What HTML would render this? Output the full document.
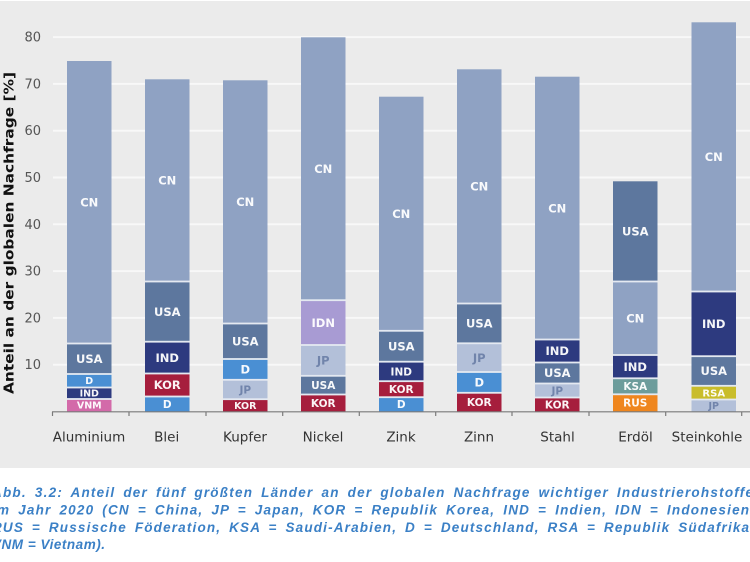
<!DOCTYPE html>
<html>
<head>
<meta charset="utf-8">
<style>
  html, body { margin: 0; padding: 0; background: #ffffff; }
  body { width: 750px; height: 562px; overflow: hidden; }
  svg { display: block; }
</style>
</head>
<body>
<svg width="750" height="562" viewBox="0 0 750 562" xmlns="http://www.w3.org/2000/svg">
  <rect x="0" y="0" width="750" height="562" fill="#ffffff"/>
  <rect x="0" y="1" width="750" height="467" fill="#ebebeb"/>

  <g stroke="#f8f8f8" stroke-width="2">
    <line x1="53" y1="364.7" x2="750" y2="364.7"/>
    <line x1="53" y1="317.9" x2="750" y2="317.9"/>
    <line x1="53" y1="271.1" x2="750" y2="271.1"/>
    <line x1="53" y1="224.3" x2="750" y2="224.3"/>
    <line x1="53" y1="177.5" x2="750" y2="177.5"/>
    <line x1="53" y1="130.7" x2="750" y2="130.7"/>
    <line x1="53" y1="83.9" x2="750" y2="83.9"/>
    <line x1="53" y1="37.1" x2="750" y2="37.1"/>
  </g>

  <g font-family="'DejaVu Sans', 'Liberation Sans', sans-serif" font-size="13" fill="#555" text-anchor="end">
    <text x="41" y="369.2">10</text>
    <text x="41" y="322.4">20</text>
    <text x="41" y="275.6">30</text>
    <text x="41" y="228.8">40</text>
    <text x="41" y="182">50</text>
    <text x="41" y="135.2">60</text>
    <text x="41" y="88.4">70</text>
    <text x="41" y="41.6">80</text>
  </g>

  <text transform="translate(13.5,233) rotate(-90)" text-anchor="middle" font-family="'DejaVu Sans', 'Liberation Sans', sans-serif" font-weight="bold" font-size="13" fill="#111" textLength="322" lengthAdjust="spacingAndGlyphs">Anteil an der globalen Nachfrage [%]</text>

  <g>
    <rect x="67" y="61" width="44.5" height="282.5" fill="#8fa2c3"/>
    <rect x="67" y="343.5" width="44.5" height="30.5" fill="#5d779e"/>
    <rect x="67" y="374" width="44.5" height="13.5" fill="#4a8fd3"/>
    <rect x="67" y="387.5" width="44.5" height="11.5" fill="#2d3a7f"/>
    <rect x="67" y="399" width="44.5" height="12.5" fill="#d36aa9"/>

    <rect x="145" y="79.3" width="44.5" height="202.2" fill="#8fa2c3"/>
    <rect x="145" y="281.5" width="44.5" height="60.2" fill="#5d779e"/>
    <rect x="145" y="341.7" width="44.5" height="31.8" fill="#2d3a7f"/>
    <rect x="145" y="373.5" width="44.5" height="23" fill="#a61e3d"/>
    <rect x="145" y="396.5" width="44.5" height="15" fill="#4a8fd3"/>

    <rect x="223" y="80.3" width="44.5" height="243.2" fill="#8fa2c3"/>
    <rect x="223" y="323.5" width="44.5" height="35.5" fill="#5d779e"/>
    <rect x="223" y="359" width="44.5" height="20.8" fill="#4a8fd3"/>
    <rect x="223" y="379.8" width="44.5" height="19.4" fill="#b3c0d9"/>
    <rect x="223" y="399.2" width="44.5" height="12.3" fill="#a61e3d"/>

    <rect x="301" y="37.3" width="44.5" height="262.9" fill="#8fa2c3"/>
    <rect x="301" y="300.2" width="44.5" height="44.8" fill="#a89bd3"/>
    <rect x="301" y="345" width="44.5" height="30.8" fill="#b3c0d9"/>
    <rect x="301" y="375.8" width="44.5" height="18.7" fill="#5d779e"/>
    <rect x="301" y="394.5" width="44.5" height="17" fill="#a61e3d"/>

    <rect x="379" y="96.7" width="44.5" height="234.1" fill="#8fa2c3"/>
    <rect x="379" y="330.8" width="44.5" height="30.9" fill="#5d779e"/>
    <rect x="379" y="361.7" width="44.5" height="19.5" fill="#2d3a7f"/>
    <rect x="379" y="381.2" width="44.5" height="16" fill="#a61e3d"/>
    <rect x="379" y="397.2" width="44.5" height="14.3" fill="#4a8fd3"/>

    <rect x="457" y="69.3" width="44.5" height="234.2" fill="#8fa2c3"/>
    <rect x="457" y="303.5" width="44.5" height="39.8" fill="#5d779e"/>
    <rect x="457" y="343.3" width="44.5" height="28.7" fill="#b3c0d9"/>
    <rect x="457" y="372" width="44.5" height="20.8" fill="#4a8fd3"/>
    <rect x="457" y="392.8" width="44.5" height="18.7" fill="#a61e3d"/>

    <rect x="535" y="76.7" width="44.5" height="262.8" fill="#8fa2c3"/>
    <rect x="535" y="339.5" width="44.5" height="23" fill="#2d3a7f"/>
    <rect x="535" y="362.5" width="44.5" height="21" fill="#5d779e"/>
    <rect x="535" y="383.5" width="44.5" height="14" fill="#b3c0d9"/>
    <rect x="535" y="397.5" width="44.5" height="14" fill="#a61e3d"/>

    <rect x="613" y="181.3" width="44.5" height="100.2" fill="#5d779e"/>
    <rect x="613" y="281.5" width="44.5" height="73.5" fill="#8fa2c3"/>
    <rect x="613" y="355" width="44.5" height="23.3" fill="#2d3a7f"/>
    <rect x="613" y="378.3" width="44.5" height="16" fill="#6c9c9b"/>
    <rect x="613" y="394.3" width="44.5" height="17.2" fill="#ef861e"/>

    <rect x="691.5" y="22.3" width="44.5" height="269.2" fill="#8fa2c3"/>
    <rect x="691.5" y="291.5" width="44.5" height="64.7" fill="#2d3a7f"/>
    <rect x="691.5" y="356.2" width="44.5" height="29.6" fill="#5d779e"/>
    <rect x="691.5" y="385.8" width="44.5" height="13.7" fill="#c9bd2b"/>
    <rect x="691.5" y="399.5" width="44.5" height="12" fill="#b3c0d9"/>
  </g>

  <g fill="#e4e9f1">
    <rect x="67" y="342.6" width="44.5" height="1.8"/>
    <rect x="67" y="373.1" width="44.5" height="1.8"/>
    <rect x="67" y="386.6" width="44.5" height="1.8"/>
    <rect x="67" y="398.1" width="44.5" height="1.8"/>

    <rect x="145" y="280.6" width="44.5" height="1.8"/>
    <rect x="145" y="340.8" width="44.5" height="1.8"/>
    <rect x="145" y="372.6" width="44.5" height="1.8"/>
    <rect x="145" y="395.6" width="44.5" height="1.8"/>

    <rect x="223" y="322.6" width="44.5" height="1.8"/>
    <rect x="223" y="358.1" width="44.5" height="1.8"/>
    <rect x="223" y="378.9" width="44.5" height="1.8"/>
    <rect x="223" y="398.3" width="44.5" height="1.8"/>

    <rect x="301" y="299.3" width="44.5" height="1.8"/>
    <rect x="301" y="344.1" width="44.5" height="1.8"/>
    <rect x="301" y="374.9" width="44.5" height="1.8"/>
    <rect x="301" y="393.6" width="44.5" height="1.8"/>

    <rect x="379" y="329.9" width="44.5" height="1.8"/>
    <rect x="379" y="360.8" width="44.5" height="1.8"/>
    <rect x="379" y="380.3" width="44.5" height="1.8"/>
    <rect x="379" y="396.3" width="44.5" height="1.8"/>

    <rect x="457" y="302.6" width="44.5" height="1.8"/>
    <rect x="457" y="342.4" width="44.5" height="1.8"/>
    <rect x="457" y="371.1" width="44.5" height="1.8"/>
    <rect x="457" y="391.9" width="44.5" height="1.8"/>

    <rect x="535" y="338.6" width="44.5" height="1.8"/>
    <rect x="535" y="361.6" width="44.5" height="1.8"/>
    <rect x="535" y="382.6" width="44.5" height="1.8"/>
    <rect x="535" y="396.6" width="44.5" height="1.8"/>

    <rect x="613" y="280.6" width="44.5" height="1.8"/>
    <rect x="613" y="354.1" width="44.5" height="1.8"/>
    <rect x="613" y="377.4" width="44.5" height="1.8"/>
    <rect x="613" y="393.4" width="44.5" height="1.8"/>

    <rect x="691.5" y="290.6" width="44.5" height="1.8"/>
    <rect x="691.5" y="355.3" width="44.5" height="1.8"/>
    <rect x="691.5" y="384.9" width="44.5" height="1.8"/>
    <rect x="691.5" y="398.6" width="44.5" height="1.8"/>
  </g>

  <g font-family="'DejaVu Sans', 'Liberation Sans', sans-serif" font-weight="bold" fill="#ffffff" fill-opacity="0.95" text-anchor="middle">
    <text x="89.25" y="206.4" font-size="11.5">CN</text>
    <text x="89.25" y="362.9" font-size="11.5">USA</text>
    <text x="89.25" y="384.2" font-size="9.5">D</text>
    <text x="89.25" y="396.7" font-size="9.5">IND</text>
    <text x="89.25" y="408.7" font-size="9.5">VNM</text>

    <text x="167.25" y="184.6" font-size="11.5">CN</text>
    <text x="167.25" y="315.8" font-size="11.5">USA</text>
    <text x="167.25" y="361.8" font-size="11.5">IND</text>
    <text x="167.25" y="389.2" font-size="11.5">KOR</text>
    <text x="167.25" y="407.8" font-size="10.5">D</text>

    <text x="245.25" y="206.1" font-size="11.5">CN</text>
    <text x="245.25" y="345.4" font-size="11.5">USA</text>
    <text x="245.25" y="373.6" font-size="11.5">D</text>
    <text x="245.25" y="393.3" font-size="10.5" fill="#6e81a9">JP</text>
    <text x="245.25" y="408.8" font-size="9.5">KOR</text>

    <text x="323.25" y="172.9" font-size="11.5">CN</text>
    <text x="323.25" y="326.8" font-size="11.5">IDN</text>
    <text x="323.25" y="364.6" font-size="11.5" fill="#6e81a9">JP</text>
    <text x="323.25" y="389" font-size="10.5">USA</text>
    <text x="323.25" y="406.8" font-size="10.5">KOR</text>

    <text x="401.25" y="217.9" font-size="11.5">CN</text>
    <text x="401.25" y="350.4" font-size="11.5">USA</text>
    <text x="401.25" y="375.3" font-size="10.5">IND</text>
    <text x="401.25" y="393" font-size="10.5">KOR</text>
    <text x="401.25" y="408.2" font-size="10.5">D</text>

    <text x="479.25" y="190.6" font-size="11.5">CN</text>
    <text x="479.25" y="327.6" font-size="11.5">USA</text>
    <text x="479.25" y="361.8" font-size="11.5" fill="#6e81a9">JP</text>
    <text x="479.25" y="386.6" font-size="11.5">D</text>
    <text x="479.25" y="406" font-size="10.5">KOR</text>

    <text x="557.25" y="212.3" font-size="11.5">CN</text>
    <text x="557.25" y="355.2" font-size="11.5">IND</text>
    <text x="557.25" y="377.2" font-size="11.5">USA</text>
    <text x="557.25" y="394.3" font-size="10.5" fill="#6e81a9">JP</text>
    <text x="557.25" y="408.3" font-size="10.5">KOR</text>

    <text x="635.25" y="235.6" font-size="11.5">USA</text>
    <text x="635.25" y="322.4" font-size="11.5">CN</text>
    <text x="635.25" y="370.8" font-size="11.5">IND</text>
    <text x="635.25" y="390.1" font-size="10.5">KSA</text>
    <text x="635.25" y="406.7" font-size="10.5">RUS</text>

    <text x="713.75" y="161.1" font-size="11.5">CN</text>
    <text x="713.75" y="328" font-size="11.5">IND</text>
    <text x="713.75" y="375.2" font-size="11.5">USA</text>
    <text x="713.75" y="396.3" font-size="10">RSA</text>
    <text x="713.75" y="409" font-size="9.5" fill="#6e81a9">JP</text>
  </g>

  <line x1="52" y1="411.8" x2="750" y2="411.8" stroke="#7a7a7a" stroke-width="1.2"/>
  <g stroke="#7a7a7a" stroke-width="1.2">
    <line x1="52.5" y1="411.8" x2="52.5" y2="416"/>
    <line x1="129" y1="411.8" x2="129" y2="416"/>
    <line x1="206" y1="411.8" x2="206" y2="416"/>
    <line x1="282.7" y1="411.8" x2="282.7" y2="416"/>
    <line x1="359.3" y1="411.8" x2="359.3" y2="416"/>
    <line x1="435.7" y1="411.8" x2="435.7" y2="416"/>
    <line x1="512" y1="411.8" x2="512" y2="416"/>
    <line x1="589" y1="411.8" x2="589" y2="416"/>
    <line x1="665.7" y1="411.8" x2="665.7" y2="416"/>
    <line x1="741.7" y1="411.8" x2="741.7" y2="416"/>
  </g>

  <g font-family="'DejaVu Sans', 'Liberation Sans', sans-serif" font-size="13.5" fill="#333" text-anchor="middle">
    <text x="89" y="441.5">Aluminium</text>
    <text x="166.7" y="441.5">Blei</text>
    <text x="245" y="441.5">Kupfer</text>
    <text x="323" y="441.5">Nickel</text>
    <text x="401" y="441.5">Zink</text>
    <text x="479" y="441.5">Zinn</text>
    <text x="557.5" y="441.5">Stahl</text>
    <text x="635.5" y="441.5">Erdöl</text>
    <text x="707" y="441.5">Steinkohle</text>
  </g>

  <g font-family="'Liberation Sans', Arial, sans-serif" font-style="italic" font-weight="bold" font-size="13.5" fill="#3b80c6" word-spacing="3">
    <text x="-8" y="497" textLength="761" lengthAdjust="spacing">Abb. 3.2: Anteil der fünf größten Länder an der globalen Nachfrage wichtiger Industrierohstoffe</text>
    <text x="-8" y="514.5" textLength="762" lengthAdjust="spacing">im Jahr 2020 (CN = China, JP = Japan, KOR = Republik Korea, IND = Indien, IDN = Indonesien,</text>
    <text x="-8" y="532" textLength="762" lengthAdjust="spacing">RUS = Russische Föderation, KSA = Saudi-Arabien, D = Deutschland, RSA = Republik Südafrika,</text>
    <text x="-8" y="549" textLength="113" lengthAdjust="spacing" word-spacing="0">VNM = Vietnam).</text>
  </g>
</svg>
</body>
</html>
